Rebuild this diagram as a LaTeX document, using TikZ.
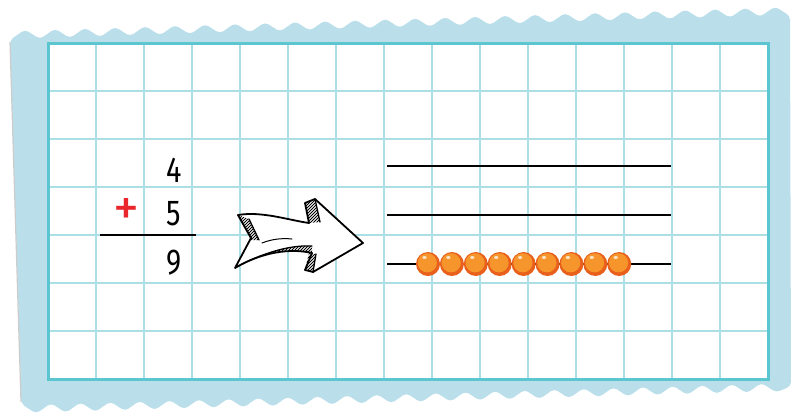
\documentclass[tikz,border=0pt]{standalone}
\usepackage{fontspec}
\setmainfont{Fira Sans}
\definecolor{paper}{HTML}{BADFEA}
\definecolor{gridc}{HTML}{ABDFE5}
\definecolor{borderc}{HTML}{5CC6D0}
\definecolor{plusred}{HTML}{E8262B}
\definecolor{beaddark}{HTML}{E8601C}
\definecolor{beadmid}{HTML}{F6952B}
\definecolor{beadhi}{HTML}{FDE3C4}
\tikzset{
  digit/.style={font=\fontsize{36}{36}\selectfont, inner sep=0pt, anchor=center},
  plussign/.style={font=\fontsize{52}{52}\selectfont, inner sep=0pt, anchor=center, text=plusred},
  gridline/.style={draw=gridc, line width=2.2pt},
  gridborder/.style={draw=borderc, line width=3pt},
  rod/.style={draw=black, line width=2.4pt},
  sumline/.style={draw=black, line width=1.4pt},
  arrowline/.style={draw=black, line width=1.8pt, line join=round, line cap=round},
  hatchline/.style={draw=black, line width=0.9pt},
}
\newcommand{\myhatch}{\foreach \s in {150,153,...,380} {\draw[hatchline] (\s,290) -- (\s+100,190);}}
\begin{document}
\begin{tikzpicture}[x=1pt,y=-1pt]
\useasboundingbox (0,0) rectangle (791,416);
% paper
\fill[paper, rounded corners=4pt] (10,40)
  \foreach \i in {0,...,25} { -- ({25+30*\i},{30-0.030769*(15+30*\i)}) -- ({40+30*\i},{40-0.030769*(30+30*\i)}) }
  -- (791,386)
  \foreach \i in {1,...,26} { -- ({791-29.6*(\i-0.5)},{392+0.84615*(\i-0.5)}) -- ({791-29.6*\i},{382+0.84615*\i}) }
  -- cycle;
\draw[black!20, line width=1.2pt] (10,42) -- (21,402);
% grid
\fill[white] (48,43) rectangle (768,379);
\foreach \x in {96,144,...,720} { \draw[gridline] (\x,43) -- (\x,379); }
\foreach \y in {91,139,...,331} { \draw[gridline] (48,\y) -- (768,\y); }
\draw[gridborder] (48,43) rectangle (768,379);
% sum
\node[digit] (d4) at (174,170) {\scalebox{0.8}[1]{4}};
\node[digit] (d5) at (174,213.5) {\scalebox{0.8}[1]{5}};
\node[digit] (d9) at (174,263) {\scalebox{0.8}[1]{9}};
\node[plussign] (plus) at (126,212) {+};
\coordinate (ula) at (100,235);
\coordinate (ulb) at (196,235);
\draw[sumline] (ula) -- (ulb);
% rods
\coordinate (r1a) at (387,166); \coordinate (r1b) at (671,166);
\coordinate (r2a) at (387,215); \coordinate (r2b) at (671,215);
\coordinate (r3a) at (387,264); \coordinate (r3b) at (671,264);
\draw[rod] (r1a) -- (r1b);
\draw[rod] (r2a) -- (r2b);
\draw[rod] (r3a) -- (r3b);
% beads
\foreach \i in {0,...,8} {
  \pgfmathsetmacro{\bx}{428+23.9*\i}
  \fill[beaddark] (\bx,264) circle[radius=12pt];
  \fill[beadmid] (\bx-0.7,262.8) circle[radius=9.6pt];
  \fill[beadhi] (\bx-3.5,257.5) ellipse[x radius=2.2pt, y radius=1.5pt];
}
% arrow
\fill[white] (238,215) .. controls (262,211) and (288,220) .. (309,223) -- (305,203) -- (315,199) -- (363,243) -- (313,272) -- (305,270) -- (312,253) .. controls (290,248) and (262,252) .. (235,268) -- (251,238) -- cycle;
\begin{scope}
  \clip (238,215) -- (249,219) -- (259,240) -- (251,240) -- cycle;
  \myhatch
\end{scope}
\begin{scope}
  \clip (240,265) .. controls (268,251) and (292,245) .. (312,246) -- (312,253) .. controls (290,248) and (262,252) .. (235,268) -- cycle;
  \myhatch
\end{scope}
\begin{scope}
  \clip (305,203) -- (315,199) -- (320,222) -- (309,223) -- cycle;
  \myhatch
\end{scope}
\begin{scope}
  \clip (305,270) -- (313,272) -- (316,254) -- (309,253) -- cycle;
  \myhatch
\end{scope}
\draw[arrowline] (238,215) .. controls (262,211) and (288,220) .. (309,223) -- (305,203) -- (315,199) -- (363,243) -- (313,272) -- (305,270) -- (312,253) .. controls (290,248) and (262,252) .. (235,268) -- (251,238) -- cycle;
\draw[arrowline, line width=1.3pt] (249,219) -- (259,240);
\draw[arrowline, line width=1.3pt] (240,265) .. controls (268,251) and (292,245) .. (312,246);
\draw[arrowline, line width=1.3pt] (315,199) -- (320,222);
\draw[arrowline, line width=1.3pt] (313,272) -- (316,254);
\draw[arrowline, line width=1pt] (262,243) .. controls (272,239) and (282,238) .. (292,239);
\end{tikzpicture}
\end{document}
